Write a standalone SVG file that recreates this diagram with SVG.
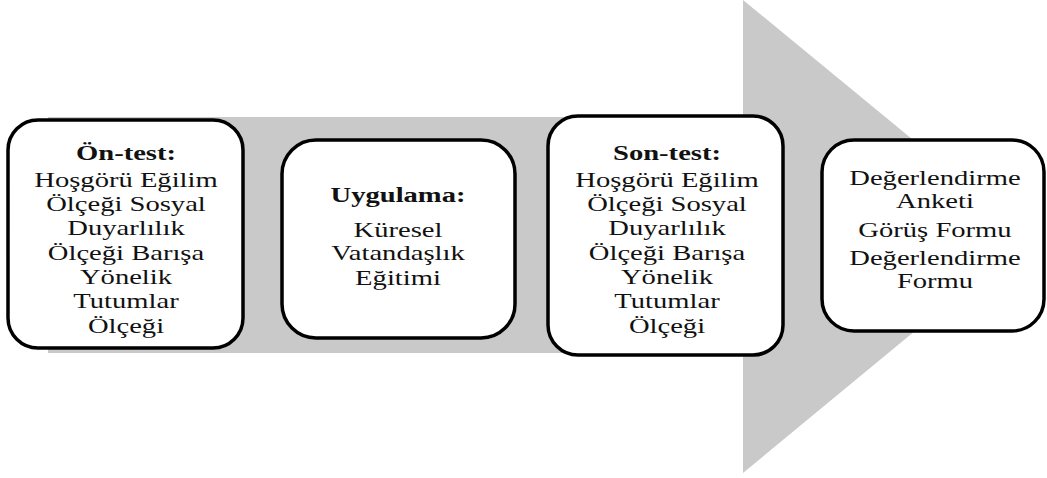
<svg xmlns="http://www.w3.org/2000/svg" width="1047" height="478" viewBox="0 0 1047 478">
<style>
.box{fill:#fff;stroke:#000;stroke-width:3.5}
.t{font-family:"Liberation Serif","Times New Roman",serif;font-size:22px;fill:#111;text-anchor:middle}
.b{font-weight:bold}
</style>
<rect width="1047" height="478" fill="#fff"/>
<g id="arrow">
<polygon points="48,117 743,117 743,0 1030,236 743,473 743,353 48,353" fill="#c9c9c9"/>
</g>
<g id="connectors"></g>
<g id="pretest">
<rect class="box" x="8" y="120" width="235" height="228" rx="30"/>
<g transform="translate(126,0) scale(1.3,1)">
<text class="t b" x="0" y="160">Ön-test:</text>
<text class="t" x="0" y="187">Hoşgörü Eğilim</text>
<text class="t" x="0" y="211">Ölçeği Sosyal</text>
<text class="t" x="0" y="235">Duyarlılık</text>
<text class="t" x="0" y="260">Ölçeği Barışa</text>
<text class="t" x="0" y="284">Yönelik</text>
<text class="t" x="0" y="308">Tutumlar</text>
<text class="t" x="0" y="333">Ölçeği</text>
</g>
</g>
<g id="uygulama">
<rect class="box" x="282" y="140" width="233" height="198" rx="34"/>
<g transform="translate(398,0) scale(1.3,1)">
<text class="t b" x="0" y="202">Uygulama:</text>
<text class="t" x="0" y="237">Küresel</text>
<text class="t" x="0" y="260">Vatandaşlık</text>
<text class="t" x="0" y="285">Eğitimi</text>
</g>
</g>
<g id="posttest">
<rect class="box" x="548" y="116" width="235" height="239" rx="30"/>
<g transform="translate(667,0) scale(1.3,1)">
<text class="t b" x="0" y="160">Son-test:</text>
<text class="t" x="0" y="187">Hoşgörü Eğilim</text>
<text class="t" x="0" y="211">Ölçeği Sosyal</text>
<text class="t" x="0" y="235">Duyarlılık</text>
<text class="t" x="0" y="260">Ölçeği Barışa</text>
<text class="t" x="0" y="284">Yönelik</text>
<text class="t" x="0" y="308">Tutumlar</text>
<text class="t" x="0" y="333">Ölçeği</text>
</g>
</g>
<g id="evaluation">
<rect class="box" x="822" y="140" width="222" height="191" rx="32"/>
<g transform="translate(935,0) scale(1.3,1)">
<text class="t" x="0" y="185">Değerlendirme</text>
<text class="t" x="0" y="208">Anketi</text>
<text class="t" x="0" y="237">Görüş Formu</text>
<text class="t" x="0" y="265">Değerlendirme</text>
<text class="t" x="0" y="288">Formu</text>
</g>
</g>
</svg>
